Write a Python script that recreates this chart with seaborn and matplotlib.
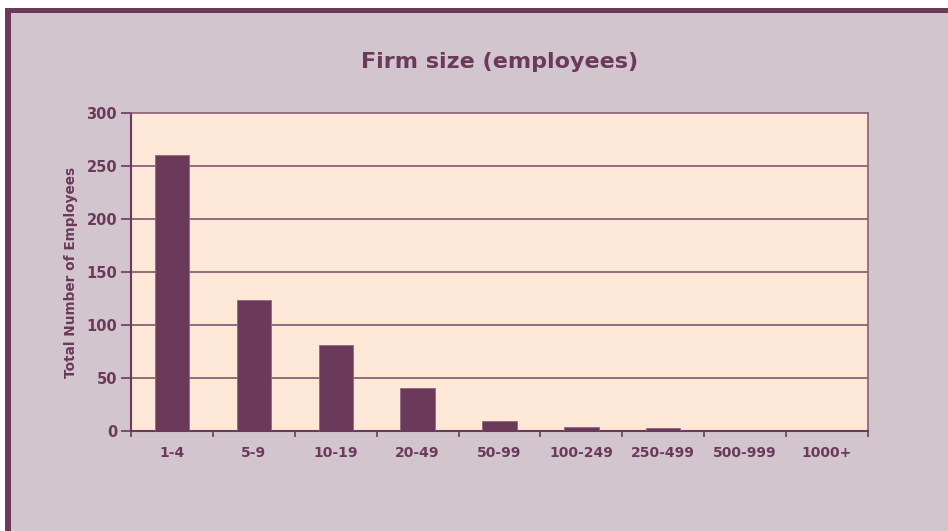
import matplotlib
matplotlib.use("Agg")
import matplotlib.pyplot as plt
from matplotlib.patches import Rectangle
import seaborn as sns
import pandas as pd
import numpy as np

categories = ["1-4", "5-9", "10-19", "20-49", "50-99", "100-249", "250-499", "500-999", "1000+"]
employees = [260, 124, 81, 41, 9, 4, 2.5, 0, 0]
y_ticks = [0, 50, 100, 150, 200, 250, 300]

title = "Firm size (employees)"
y_label = "Total Number of Employees"

purple = "#6B3A5B"
bg = "#D3C5CE"
plot_bg = "#FDE8D8"

sns.set_theme(style="white")
plt.rcParams['font.family'] = ['DejaVu Sans']

W, H = 948, 531
fig = plt.figure(figsize=(W / 100, H / 100), dpi=100)
fig.patch.set_facecolor("white")

# background panel and border
fig.patches.append(Rectangle((5 / W, 0), 1, (H - 8) / H, transform=fig.transFigure,
                             facecolor=bg, edgecolor="none", zorder=-10))
fig.patches.append(Rectangle((5 / W, (H - 13) / H), 1, 5 / H, transform=fig.transFigure,
                             facecolor=purple, edgecolor="none", zorder=-5))
fig.patches.append(Rectangle((5 / W, 0), 6 / W, (H - 8) / H, transform=fig.transFigure,
                             facecolor=purple, edgecolor="none", zorder=-5))

ax = fig.add_axes([131 / W, (H - 431) / H, (868 - 131) / W, (431 - 113) / H])
ax.set_facecolor(plot_bg)

df = pd.DataFrame({"size": categories, "employees": employees})
sns.barplot(data=df, x="size", y="employees", order=categories, color=purple,
            width=0.42, saturation=1, ax=ax, zorder=3, edgecolor="#8E6A82", linewidth=0.6)

ax.set_ylim(0, 300)
ax.set_xlim(-0.5, len(categories) - 0.5)
ax.set_yticks(y_ticks)
ax.set_yticklabels([str(t) for t in y_ticks], fontweight="bold")
for t in y_ticks[1:-1]:
    ax.axhline(t, color="#7A4766", lw=1.1, zorder=1)

ax.set_xticks(range(len(categories)))
ax.set_xticklabels(categories, fontweight="bold")
ax.set_xticks(np.arange(-0.5, len(categories)), minor=True)
ax.tick_params(axis="x", which="major", length=0, pad=11, labelsize=10, labelcolor=purple)
ax.tick_params(axis="x", which="minor", length=4, width=1.2, color=purple, direction="out", bottom=True)
ax.tick_params(axis="y", length=7, width=1.2, color=purple, direction="out", left=True,
               pad=3, labelsize=10.5, labelcolor=purple)

for side in ["left", "bottom"]:
    ax.spines[side].set_color(purple)
    ax.spines[side].set_linewidth(1.5)
for side in ["top", "right"]:
    ax.spines[side].set_color("#8A6079")
    ax.spines[side].set_linewidth(1.2)

ax.set_xlabel("")
ax.set_ylabel(y_label, fontsize=9.8, fontweight="bold", color=purple, labelpad=6)
fig.text(500 / W, (H - 62) / H, title, ha="center", va="center", fontsize=16,
         fontweight="bold", color=purple)

fig.savefig("out.png", dpi=100, facecolor=fig.get_facecolor())
